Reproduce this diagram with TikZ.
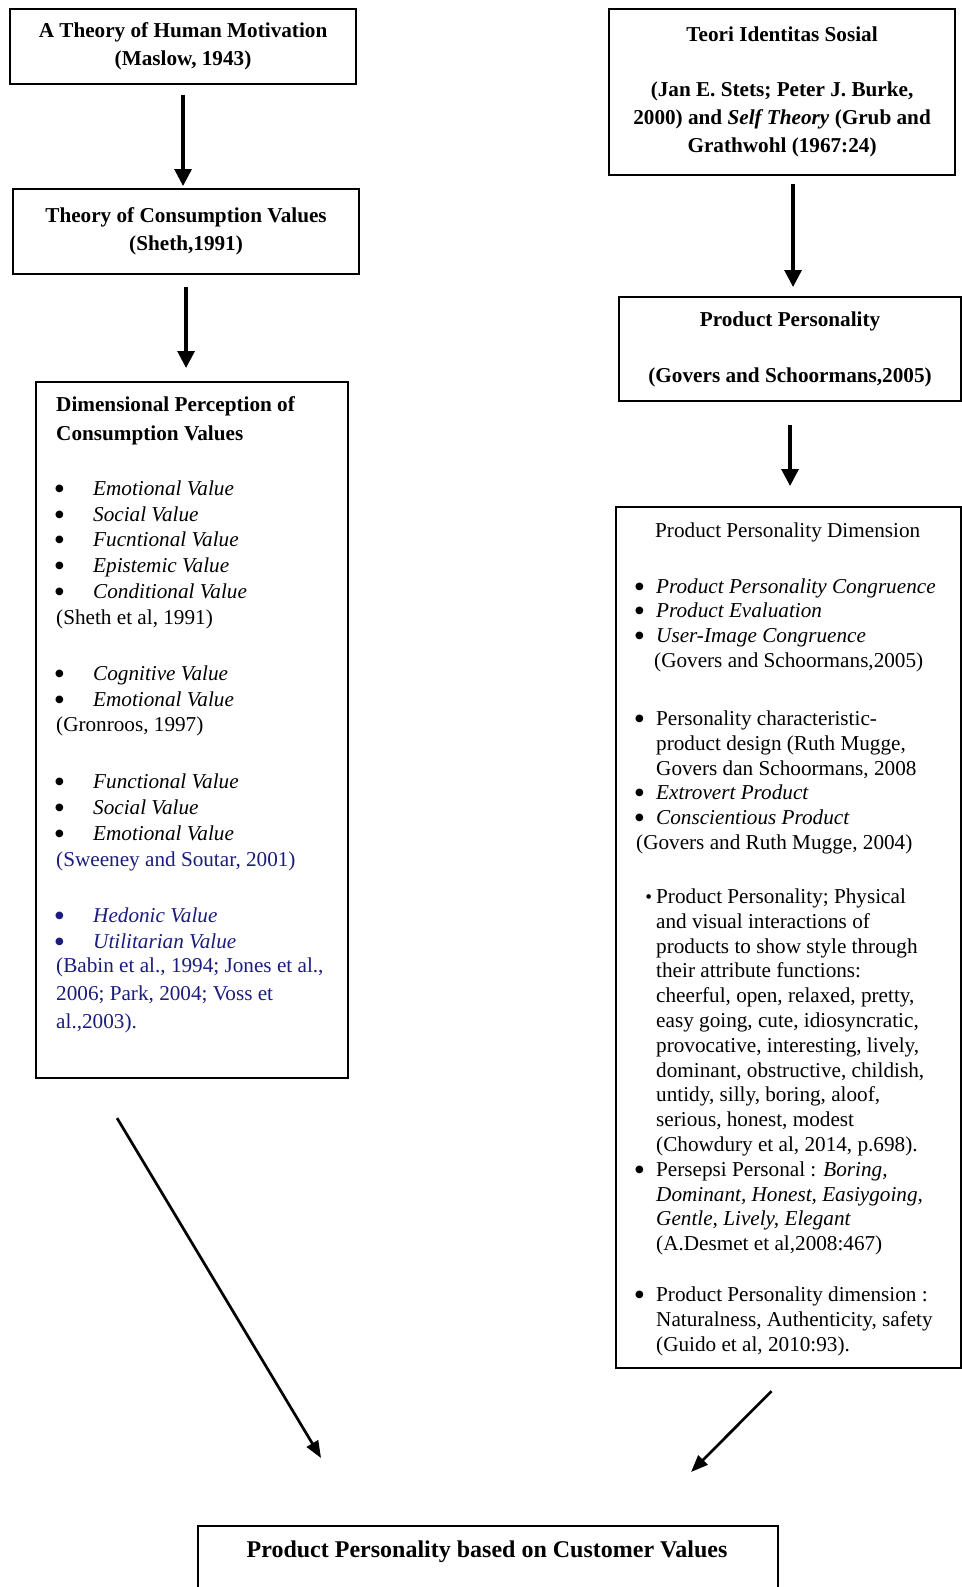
\documentclass[tikz,border=0pt]{standalone}
\usepackage{fontspec}
\setmainfont{Liberation Serif}
\newfontfamily\symfont{DejaVu Sans}
\usepackage{tikz}
\usepackage{xcolor}
\usetikzlibrary{arrows.meta, calc, positioning}
\definecolor{citeblue}{RGB}{28, 28, 125}

\newcommand{\bigbul}{\raisebox{4pt}{\symfont\fontsize{10}{10}\selectfont ●}}
\newcommand{\lbul}{\makebox[37pt][l]{\hspace*{-1pt}\bigbul}}
\newcommand{\rbul}{\makebox[20pt][l]{\hspace*{-1pt}\bigbul}}
\newcommand{\rind}{\hspace*{20pt}}

\begin{document}
\begin{tikzpicture}[x=1pt, y=-1pt]%{{{
        \useasboundingbox (0, 0) rectangle (961, 1587);

        \tikzstyle{bx} = [draw, line width=2.1pt, inner sep=0pt, anchor=north west];
        \tikzstyle{hd} = [font=\fontsize{21.2}{28.4}\selectfont\bfseries, align=center];
        \tikzstyle{ar} = [line width=3.2pt, -{Triangle[length=17pt, width=17pt]}];
        \tikzstyle{dg} = [line width=2.7pt, -{Triangle[length=17pt, width=13pt]}];

        % left column
        \node [bx, hd, minimum width=346, minimum height=75] (B1) at (9, 8)
            {A Theory of Human Motivation\\(Maslow, 1943)};
        \node [bx, hd, minimum width=346, minimum height=85] (B2) at (12, 188)
            {Theory of Consumption Values\\(Sheth,1991)};
        \node [bx, minimum width=312, minimum height=696] (B3) at (35, 381) {};

        \node [anchor=north west, inner sep=0pt, align=left,
               font=\fontsize{21.2}{25.8}\selectfont] (T3) at (56, 393) {%
            \strut\textbf{Dimensional Perception of}\\[3.2pt]
            \textbf{Consumption Values}\\[29.2pt]
            \lbul\textit{Emotional Value}\\
            \lbul\textit{Social Value}\\
            \lbul\textit{Fucntional Value}\\
            \lbul\textit{Epistemic Value}\\
            \lbul\textit{Conditional Value}\\
            (Sheth et al, 1991)\\[30.2pt]
            \lbul\textit{Cognitive Value}\\
            \lbul\textit{Emotional Value}\\
            (Gronroos, 1997)\\[31.2pt]
            \lbul\textit{Functional Value}\\
            \lbul\textit{Social Value}\\
            \lbul\textit{Emotional Value}\\
            {\color{citeblue}(Sweeney and Soutar, 2001)}\\[30.2pt]
            {\color{citeblue}\lbul\textit{Hedonic Value}}\\
            {\color{citeblue}\lbul\textit{Utilitarian Value}}\\[-1.8pt]
            {\color{citeblue}(Babin et al., 1994; Jones et al.,}\\[2.2pt]
            {\color{citeblue}2006; Park, 2004; Voss et}\\[2.7pt]
            {\color{citeblue}al.,2003).}};

        % right column
        \node [bx, hd, minimum width=346, minimum height=166] (B4) at (608, 8)
            {Teori Identitas Sosial\\[26.2pt]
             (Jan E. Stets; Peter J. Burke,\\
             2000) and \textit{Self Theory} (Grub and\\
             Grathwohl (1967:24)};
        \node [bx, hd, minimum width=342, minimum height=104] (B5) at (618, 296)
            {Product Personality\\[27.3pt](Govers and Schoormans,2005)};
        \node [bx, minimum width=345, minimum height=861] (B6) at (615, 506) {};

        \node [anchor=north west, inner sep=0pt, align=left,
               font=\fontsize{21.2}{24.8}\selectfont] (T6) at (636, 519.6) {%
            \strut\hspace*{19pt}Product Personality Dimension\\[31.2pt]
            \rbul\textit{Product Personality Congruence}\\
            \rbul\textit{Product Evaluation}\\
            \rbul\textit{User-Image Congruence}\\
            \hspace*{18pt}(Govers and Schoormans,2005)\\[33.2pt]
            \rbul Personality characteristic-\\
            \rind product design (Ruth Mugge,\\
            \rind Govers dan Schoormans, 2008\\
            \rbul\textit{Extrovert Product}\\
            \rbul\textit{Conscientious Product}\\
            (Govers and Ruth Mugge, 2004)\\[29.2pt]
            \hspace*{10pt}\makebox[10pt][l]{\raisebox{5pt}{\symfont\fontsize{6}{6}\selectfont ●}}Product Personality; Physical\\
            \rind and visual interactions of\\
            \rind products to show style through\\
            \rind their attribute functions:\\
            \rind cheerful, open, relaxed, pretty,\\
            \rind easy going, cute, idiosyncratic,\\
            \rind provocative, interesting, lively,\\
            \rind dominant, obstructive, childish,\\
            \rind untidy, silly, boring, aloof,\\
            \rind serious, honest, modest\\
            \rind (Chowdury et al, 2014, p.698).\\
            \rbul Persepsi Personal : \textit{Boring,}\\
            \rind\textit{Dominant, Honest, Easiygoing,}\\
            \rind\textit{Gentle, Lively, Elegant}\\
            \rind (A.Desmet et al,2008:467)\\[26.2pt]
            \rbul Product Personality dimension :\\
            \rind Naturalness, Authenticity, safety\\
            \rind (Guido et al, 2010:93).};

        % bottom
        \node [bx, minimum width=580, minimum height=80] (B7) at (197, 1525) {};
        \node [font=\fontsize{24}{28}\selectfont\bfseries] (T7) at (487, 1552)
            {Product Personality based on Customer Values};

        % arrows
        \draw [ar, shorten <=10pt, shorten >=2pt] (B1.south) -- (B1.south |- B2.north);
        \draw [ar, shorten <=12pt, shorten >=13pt] (B2.south) -- (B2.south |- B3.north);

        \coordinate (C3) at ($(B4.south) + (11, 0)$);
        \draw [ar, shorten <=8pt, shorten >=9pt] (C3) -- (C3 |- B5.north);
        \draw [ar, shorten <=23pt, shorten >=20pt] (B5.south) -- (B5.south |- B6.north);

        \coordinate (D1) at ($(B3.south) + (-75, 39)$);
        \coordinate (D2) at ($(B7.north) + (-167, -67)$);
        \coordinate (D3) at ($(B6.south) + (-17, 22)$);
        \coordinate (D4) at ($(B7.north) + (203, -53)$);
        \draw [dg] (D1) -- (D2);
        \draw [dg] (D3) -- (D4);
    \end{tikzpicture}
\end{document}
